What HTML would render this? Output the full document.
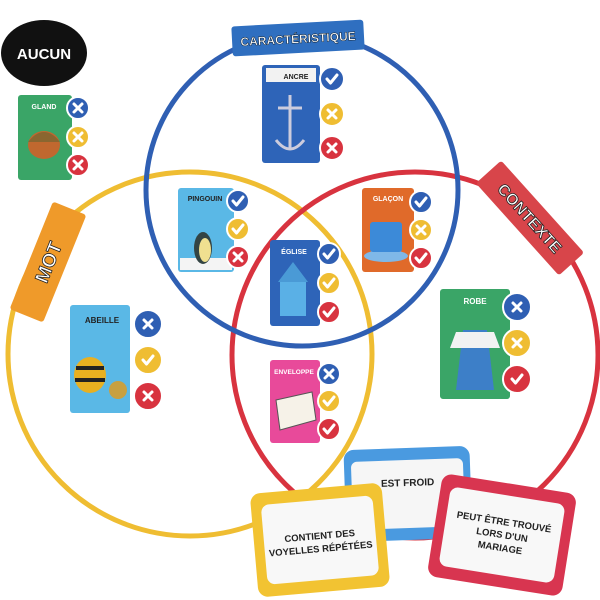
<!DOCTYPE html>
<html><head><meta charset="utf-8"><style>
html,body{margin:0;padding:0;background:#fff;width:600px;height:600px;overflow:hidden}
svg{display:block}
text{font-family:"Liberation Sans",sans-serif;font-weight:700}
</style></head><body>
<svg width="600" height="600" viewBox="0 0 600 600" xmlns="http://www.w3.org/2000/svg">
<defs>
<g id="ck"><path d="M-5,0 L-1.5,4 L5,-4" fill="none" stroke="#fff" stroke-width="3" stroke-linecap="round" stroke-linejoin="round"/></g>
<g id="xx"><path d="M-4,-4 L4,4 M4,-4 L-4,4" fill="none" stroke="#fff" stroke-width="3" stroke-linecap="round"/></g>
</defs>
<circle cx="190" cy="354" r="182" fill="none" stroke="#efbd32" stroke-width="5"/>
<circle cx="415" cy="355" r="183" fill="none" stroke="#d8333f" stroke-width="5"/>
<circle cx="302" cy="190" r="156" fill="none" stroke="#2f5fb3" stroke-width="5"/>

<ellipse cx="44" cy="53" rx="43" ry="33" fill="#111"/>
<text x="44" y="59" font-size="15" fill="#fff" text-anchor="middle">AUCUN</text>

<g transform="translate(298,38) rotate(-3)"><rect x="-66" y="-15" width="132" height="30" rx="3" fill="#2f6fc0"/><text x="0" y="5" font-size="12" fill="#fff" text-anchor="middle" stroke="#123" stroke-width="0.5">CARACTÉRISTIQUE</text></g>
<g transform="translate(48,262) rotate(-68)"><rect x="-58" y="-18" width="116" height="36" rx="3" fill="#ef9a2a"/><text x="0" y="7" font-size="19" fill="#fff" text-anchor="middle" stroke="#222" stroke-width="0.8">MOT</text></g>
<g transform="translate(530,218) rotate(48)"><rect x="-62" y="-17" width="124" height="34" rx="3" fill="#d8454a"/><text x="0" y="6" font-size="16" fill="#fff" text-anchor="middle" stroke="#222" stroke-width="0.8">CONTEXTE</text></g>

<rect x="18" y="95" width="54" height="85" rx="3" fill="#3aa567"/>
<text x="44" y="109" font-size="7" fill="#fff" text-anchor="middle">GLAND</text>
<ellipse cx="44" cy="145" rx="16" ry="14" fill="#c0682f"/><path d="M28,142 Q44,122 60,142 Z" fill="#8a6630"/>
<rect x="262" y="65" width="58" height="98" rx="3" fill="#2e64b8"/>
<rect x="266" y="68" width="50" height="14" fill="#f2f2f2"/>
<text x="296" y="79" font-size="7" fill="#222" text-anchor="middle">ANCRE</text>
<path d="M290,95 L290,150 M278,108 L302,108 M276,140 Q290,158 304,140" stroke="#ccd" stroke-width="3" fill="none"/>
<rect x="178" y="188" width="56" height="84" rx="3" fill="#5ab8e6"/>
<text x="205" y="201" font-size="7" fill="#222" text-anchor="middle">PINGOUIN</text>
<rect x="180" y="258" width="52" height="12" fill="#f4f4f4"/>
<ellipse cx="203" cy="248" rx="9" ry="16" fill="#344"/><ellipse cx="205" cy="250" rx="6" ry="12" fill="#f0e090"/>
<rect x="362" y="188" width="52" height="84" rx="3" fill="#e06a2a"/>
<text x="388" y="201" font-size="7" fill="#fff" text-anchor="middle">GLAÇON</text>
<ellipse cx="386" cy="256" rx="22" ry="6" fill="#7fb8e8"/><rect x="370" y="222" width="32" height="30" rx="3" fill="#3c8ad8"/>
<rect x="270" y="240" width="50" height="86" rx="3" fill="#2e64b8"/>
<text x="294" y="254" font-size="7" fill="#fff" text-anchor="middle">ÉGLISE</text>
<rect x="280" y="280" width="26" height="36" fill="#5ab0e6"/><path d="M278,282 L293,262 L308,282 Z" fill="#4a9ad6"/>
<rect x="70" y="305" width="60" height="108" rx="3" fill="#5ab8e6"/>
<text x="102" y="323" font-size="8" fill="#222" text-anchor="middle">ABEILLE</text>
<ellipse cx="90" cy="375" rx="16" ry="18" fill="#e8b020"/><path d="M76,368 L104,368 M75,380 L105,380" stroke="#222" stroke-width="4"/>
<circle cx="118" cy="390" r="9" fill="#c8a040"/>
<rect x="440" y="289" width="70" height="110" rx="3" fill="#3aa567"/>
<text x="475" y="304" font-size="8" fill="#fff" text-anchor="middle">ROBE</text>
<path d="M463,330 L487,330 L494,390 L456,390 Z" fill="#3d7fc8"/><path d="M456,332 L494,332 L500,348 L450,348 Z" fill="#f2f2f2"/>
<rect x="270" y="360" width="50" height="83" rx="3" fill="#e84a9a"/>
<text x="294" y="374" font-size="6.5" fill="#fff" text-anchor="middle">ENVELOPPE</text>
<path d="M276,400 L312,392 L316,420 L280,430 Z" fill="#f6f2e8" stroke="#555" stroke-width="1"/>

<g stroke="#fff" stroke-width="2">
<circle cx="78" cy="108" r="11" fill="#2f5fb3"/><circle cx="78" cy="137" r="11" fill="#efbd32"/><circle cx="78" cy="165" r="11" fill="#d8333f"/>
<circle cx="332" cy="79" r="12" fill="#2f5fb3"/><circle cx="332" cy="114" r="12" fill="#efbd32"/><circle cx="332" cy="148" r="12" fill="#d8333f"/>
<circle cx="238" cy="201" r="11" fill="#2f5fb3"/><circle cx="238" cy="229" r="11" fill="#efbd32"/><circle cx="238" cy="257" r="11" fill="#d8333f"/>
<circle cx="421" cy="202" r="11" fill="#2f5fb3"/><circle cx="421" cy="230" r="11" fill="#efbd32"/><circle cx="421" cy="258" r="11" fill="#d8333f"/>
<circle cx="329" cy="254" r="11" fill="#2f5fb3"/><circle cx="329" cy="283" r="11" fill="#efbd32"/><circle cx="329" cy="312" r="11" fill="#d8333f"/>
<circle cx="148" cy="324" r="14" fill="#2f5fb3"/><circle cx="148" cy="360" r="14" fill="#efbd32"/><circle cx="148" cy="396" r="14" fill="#d8333f"/>
<circle cx="517" cy="307" r="14" fill="#2f5fb3"/><circle cx="517" cy="343" r="14" fill="#efbd32"/><circle cx="517" cy="379" r="14" fill="#d8333f"/>
<circle cx="329" cy="374" r="11" fill="#2f5fb3"/><circle cx="329" cy="401" r="11" fill="#efbd32"/><circle cx="329" cy="429" r="11" fill="#d8333f"/>
</g>
<use href="#xx" x="78" y="108"/><use href="#xx" x="78" y="137"/><use href="#xx" x="78" y="165"/>
<use href="#ck" x="332" y="79"/><use href="#xx" x="332" y="114"/><use href="#xx" x="332" y="148"/>
<use href="#ck" x="238" y="201"/><use href="#ck" x="238" y="229"/><use href="#xx" x="238" y="257"/>
<use href="#ck" x="421" y="202"/><use href="#xx" x="421" y="230"/><use href="#ck" x="421" y="258"/>
<use href="#ck" x="329" y="254"/><use href="#ck" x="329" y="283"/><use href="#ck" x="329" y="312"/>
<use href="#xx" x="148" y="324"/><use href="#ck" x="148" y="360"/><use href="#xx" x="148" y="396"/>
<use href="#xx" x="517" y="307"/><use href="#xx" x="517" y="343"/><use href="#ck" x="517" y="379"/>
<use href="#xx" x="329" y="374"/><use href="#ck" x="329" y="401"/><use href="#ck" x="329" y="429"/>

<g transform="translate(408,494) rotate(-2)">
<rect x="-63" y="-46" width="126" height="92" rx="10" fill="#4a9ae0"/>
<rect x="-56" y="-34" width="112" height="68" rx="6" fill="#f6f6f6"/>
<text x="0" y="-8" font-size="10" fill="#222" text-anchor="middle">EST FROID</text></g>
<g transform="translate(320,540) rotate(-5)">
<rect x="-66" y="-52" width="132" height="104" rx="10" fill="#f2c332"/>
<rect x="-56" y="-40" width="112" height="80" rx="8" fill="#f8f8f8"/>
<text x="0" y="-1" font-size="9.5" fill="#222" text-anchor="middle">CONTIENT DES</text>
<text x="0" y="12" font-size="9.5" fill="#222" text-anchor="middle">VOYELLES RÉPÉTÉES</text></g>
<g transform="translate(502,535) rotate(9)">
<rect x="-68" y="-52" width="136" height="104" rx="10" fill="#d83550"/>
<rect x="-58" y="-40" width="116" height="80" rx="8" fill="#f8f8f8"/>
<text x="0" y="-10" font-size="9.5" fill="#222" text-anchor="middle">PEUT ÊTRE TROUVÉ</text>
<text x="0" y="3" font-size="9.5" fill="#222" text-anchor="middle">LORS D'UN</text>
<text x="0" y="16" font-size="9.5" fill="#222" text-anchor="middle">MARIAGE</text></g>
</svg>
</body></html>
